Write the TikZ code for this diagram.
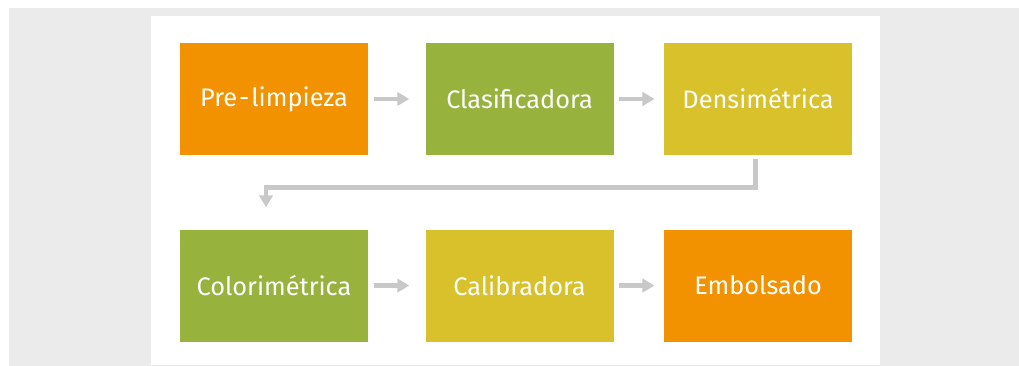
\documentclass[tikz,border=0pt]{standalone}
\usepackage{xcolor}
\usepackage{fontspec}
\usepackage{tikz}
\usetikzlibrary{arrows.meta, positioning}
\newfontfamily\stagefont{Fira Sans}
\definecolor{stageorange}{HTML}{F29200}
\definecolor{stagegreen}{HTML}{98B23E}
\definecolor{stageyellow}{HTML}{D9C12B}
\definecolor{flowgray}{HTML}{C8C8C8}
\definecolor{pagegray}{HTML}{EBEBEB}
\tikzstyle{stagebox} = [rectangle, minimum width=141pt, minimum height=84pt, inner sep=0pt,
  text centered, font={\stagefont\fontsize{19}{22}\selectfont}, text=white]
\tikzstyle{orangebox} = [stagebox, fill=stageorange]
\tikzstyle{greenbox} = [stagebox, fill=stagegreen]
\tikzstyle{yellowbox} = [stagebox, fill=stageyellow]
\tikzstyle{arrow} = [draw=flowgray, line width=3.5pt, -{Triangle[length=9pt,width=10pt]}, shorten <=4pt]

\begin{document}
\begin{tikzpicture}[x=0.75pt, y=-0.75pt, node distance=42.75pt]
  \useasboundingbox (0,0) rectangle (1019,366);
  \fill[pagegray] (9,8) rectangle (1019,366);
  \fill[white] (151,16) rectangle (880,365);

  \node (prelimp) [orangebox] at (274,99) {Pre\kern1.5pt-\kern1.5pt limpieza};
  \node (clasif)  [greenbox, right=of prelimp] {Clasificadora};
  \node (densim)  [yellowbox, right=37.5pt of clasif] {Densimétrica};
  \node (colorim) [greenbox, below=55.5pt of prelimp] {Colorimétrica};
  \node (calib)   [yellowbox, right=of colorim] {Calibradora};
  \node (embols)  [orangebox, right=37.5pt of calib] {Embolsado};

  \draw[arrow, shorten >=12pt] (prelimp)--(clasif);
  \draw[arrow, shorten >=7pt] (clasif)--(densim);
  \draw[arrow, shorten <=3pt] ([xshift=-2pt]densim.south) -- ++(0,-24pt)
    -| ([xshift=-6pt, yshift=16.5pt]colorim.north);
  \draw[arrow, shorten >=12pt] (colorim)--(calib);
  \draw[arrow, shorten >=7pt] (calib)--(embols);
\end{tikzpicture}
\end{document}
